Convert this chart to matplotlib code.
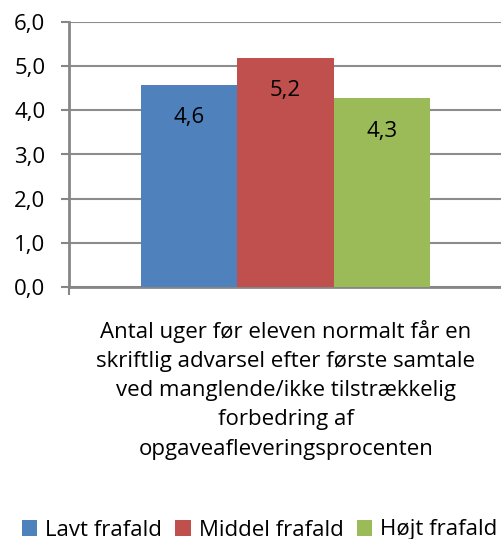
import numpy as np
import matplotlib.pyplot as plt
from matplotlib.patches import Patch

# -------------------------------------------------------------
# Data
# -------------------------------------------------------------
series = ["Lavt frafald", "Middel frafald", "Højt frafald"]
values = [4.57, 5.18, 4.27]
colors = ["#4F81BD", "#C0504D", "#9BBB59"]
category = ("Antal uger før eleven normalt får en\n"
            "skriftlig advarsel efter første samtale\n"
            "ved manglende/ikke tilstrækkelig\n"
            "forbedring af\n"
            "opgaveafleveringsprocenten")
yticks = [0, 1, 2, 3, 4, 5, 6]

plt.rcParams['font.family'] = ['Open Sans', 'DejaVu Sans']
fs = 16

fig = plt.figure(figsize=(5.01, 5.39), dpi=100)
ax = fig.add_axes([69 / 501, 1 - 287.3 / 539, 1 - 69 / 501 + 0.002, 265.6 / 539])

bar_w = 0.667 / len(values)
offsets = (np.arange(len(values)) - (len(values) - 1) / 2) * bar_w
for off, v, c, name in zip(offsets, values, colors, series):
    ax.bar(off, v, width=bar_w, color=c, label=name, zorder=3)
    ax.text(off, v - 0.74, f"{v:.1f}".replace(".", ","), ha="center",
            va="center", fontsize=fs, color="black", zorder=4)

ax.set_xlim(-0.5, 0.5)
ax.set_ylim(0, 6)
ax.set_yticks(yticks)
ax.set_yticklabels([f"{t:.1f}".replace(".", ",") for t in yticks], fontsize=fs)
ax.set_xticks([-0.5])
ax.set_xticklabels([""])
ax.tick_params(axis="y", direction="out", length=6, width=1.5, color="#868686", pad=11)
ax.tick_params(axis="x", direction="out", length=6, width=1.5, color="#868686")
ax.yaxis.grid(True, color="#8C8C8C", linewidth=1.5, zorder=0)

for side in ["top", "right"]:
    ax.spines[side].set_visible(False)
for side in ["left", "bottom"]:
    ax.spines[side].set_color("#868686")
    ax.spines[side].set_linewidth(2)

fig.text(286 / 501, 1 - 320 / 539, category, ha="center", va="top",
         fontsize=fs, linespacing=1.51)

handles = [Patch(facecolor=c, label=s) for c, s in zip(colors, series)]
fig.legend(handles=handles, loc="center", bbox_to_anchor=(0.518, 1 - 530 / 539),
           ncol=3, frameon=False, fontsize=fs, handlelength=0.7, handleheight=0.7,
           handletextpad=0.35, columnspacing=0.6, borderaxespad=0)

fig.savefig("out.png", dpi=100)
